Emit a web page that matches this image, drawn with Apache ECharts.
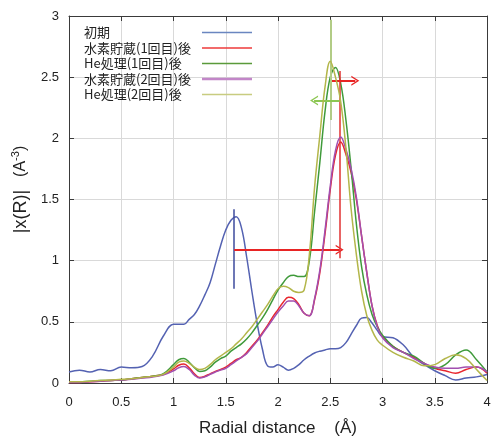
<!DOCTYPE html>
<html><head><meta charset="utf-8">
<script src="https://cdn.jsdelivr.net/npm/echarts@6/dist/echarts.min.js"></script>
<style>html,body{margin:0;padding:0;background:#fff}#c{width:492px;height:436px}</style>
</head><body><div id="c"></div><script>
// Radial distance grid (Å)
const rGrid = [0,0.1,0.2,0.3,0.4,0.5,0.6,0.7,0.8,0.9,
  1.0,1.05,1.1,1.15,1.2,1.25,1.3,1.35,1.4,1.45,
  1.5,1.55,1.6,1.65,1.7,1.75,1.8,1.85,1.9,1.95,
  2.0,2.05,2.1,2.15,2.2,2.25,2.3,2.35,2.4,2.45,
  2.5,2.55,2.6,2.65,2.7,2.75,2.8,2.85,2.9,2.95,
  3.0,3.1,3.2,3.3,3.4,3.5,3.6,3.7,3.8,3.9,4.0];
// 初期
const initialVals = [0.09,0.105,0.09,0.11,0.10,0.13,0.125,0.135,0.22,0.38,
  0.48,0.48,0.48,0.52,0.56,0.63,0.72,0.82,0.97,1.12,
  1.25,1.33,1.36,1.27,1.03,0.75,0.49,0.28,0.14,0.13,
  0.15,0.13,0.105,0.12,0.15,0.19,0.22,0.245,0.26,0.27,
  0.28,0.28,0.29,0.33,0.40,0.47,0.53,0.535,0.49,0.43,
  0.38,0.37,0.31,0.21,0.15,0.10,0.06,0.025,0.04,0.05,0.07];
// 水素貯蔵(1回目)後
const h1Vals = [0.005,0.005,0.01,0.015,0.02,0.025,0.035,0.045,0.055,0.07,
  0.115,0.145,0.155,0.125,0.075,0.045,0.055,0.075,0.095,0.11,
  0.13,0.16,0.19,0.21,0.25,0.30,0.35,0.41,0.47,0.54,
  0.60,0.66,0.70,0.69,0.64,0.57,0.55,0.68,0.90,1.22,
  1.58,1.86,1.97,1.87,1.72,1.50,1.20,0.90,0.63,0.47,
  0.38,0.30,0.25,0.21,0.16,0.12,0.10,0.08,0.11,0.13,0.08];
// He処理(1回目)後
const he1Vals = [0.01,0.01,0.015,0.02,0.02,0.025,0.035,0.045,0.055,0.075,
  0.15,0.19,0.20,0.17,0.125,0.095,0.10,0.13,0.17,0.20,
  0.22,0.26,0.29,0.32,0.36,0.41,0.47,0.53,0.60,0.68,
  0.76,0.82,0.87,0.88,0.87,0.87,1.00,1.40,1.80,2.22,
  2.50,2.58,2.45,2.15,1.75,1.30,0.95,0.72,0.56,0.46,
  0.39,0.30,0.25,0.22,0.16,0.12,0.15,0.23,0.27,0.19,0.09];
// 水素貯蔵(2回目)後
const h2Vals = [0.005,0.005,0.01,0.015,0.02,0.025,0.03,0.04,0.05,0.065,
  0.10,0.125,0.135,0.11,0.065,0.04,0.05,0.07,0.09,0.105,
  0.12,0.15,0.18,0.21,0.24,0.29,0.34,0.40,0.46,0.52,
  0.58,0.63,0.67,0.67,0.63,0.57,0.55,0.69,0.92,1.25,
  1.61,1.90,2.01,1.91,1.75,1.52,1.20,0.90,0.63,0.46,
  0.37,0.29,0.25,0.20,0.16,0.13,0.12,0.12,0.13,0.13,0.09];
// He処理(2回目)後
const he2Vals = [0.01,0.01,0.015,0.02,0.025,0.03,0.035,0.045,0.055,0.07,
  0.13,0.17,0.18,0.16,0.13,0.11,0.12,0.15,0.19,0.22,
  0.25,0.28,0.32,0.36,0.41,0.46,0.52,0.58,0.64,0.71,
  0.77,0.79,0.78,0.75,0.74,0.76,1.05,1.60,2.02,2.42,
  2.63,2.50,2.30,1.92,1.42,1.05,0.75,0.55,0.43,0.35,
  0.31,0.25,0.21,0.18,0.14,0.15,0.20,0.23,0.20,0.11,0.02];

const seriesNames = ['初期','水素貯蔵(1回目)後','He処理(1回目)後','水素貯蔵(2回目)後','He処理(2回目)後'];
const seriesValues = [initialVals, h1Vals, he1Vals, h2Vals, he2Vals];
const seriesColors = ['#5462b2','#e8262e','#3f9a3a','#a24fb0','#b3b64a'];
const legendColors = ['#6a86c0','#ee3a3a','#5a9a3a','#c286c8','#c8cc80'];

const xTickLabels = ['0','0.5','1','1.5','2','2.5','3','3.5','4'];
const yTickLabels = ['0','0.5','1','1.5','2','2.5','3'];

// annotation marks (data coordinates)
const blueBar = [[1.58,0.77],[1.58,1.42]];
const redShiftArrow = [[1.58,1.09],[2.59,1.09]];
const redBar = [[2.59,1.02],[2.59,2.55]];
const redSmallArrow = [[2.50,2.47],[2.74,2.47]];
const greenBar = [[2.50,2.15],[2.50,2.97]];
const greenArrow = [[2.59,2.31],[2.345,2.31]];

const chevron = 'path://M0,10 L10,0 L20,10 L17,10 L10,3 L3,10 Z';
function seg(pts, color, width, arrow){
  return [
    {coord: pts[0], symbol:'none', lineStyle:{color:color,width:width,type:'solid'}},
    {coord: pts[1], symbol: arrow ? chevron : 'none', symbolSize:[10,8]}
  ];
}

const font = '"Liberation Sans", Arial, sans-serif';
const cjk = '"Noto Sans CJK JP", sans-serif';
const chart = echarts.init(document.getElementById('c'), null, {renderer:'canvas'});

const series = seriesNames.map((name,i)=>({
  name: name, type:'line', smooth:0.4, symbol:'none', showSymbol:false,
  z: 2+i,
  lineStyle:{color:seriesColors[i], width:1.5},
  itemStyle:{color:seriesColors[i]},
  data: rGrid.map((r,k)=>[r, seriesValues[i][k]]),
  animation:false
}));
series[0].markLine = {
  silent:true, animation:false, label:{show:false}, symbol:['none','none'],
  emphasis:{disabled:true},
  data:[
    seg(blueBar,'#3c4a9c',1.5,false),
    seg(redShiftArrow,'#e82424',2,true),
    seg(redBar,'#e03030',1.5,false),
    seg(redSmallArrow,'#e82424',2,true),
    seg(greenBar,'#b2cc86',2,false),
    seg(greenArrow,'#8cc652',2,true)
  ]
};

const thinBar = 'path://M0,0H60V1.6H0Z';
const thickBar = 'path://M0,0H60V3.2H0Z';
const axisCol = '#3a3a3a';
const option = {
  backgroundColor:'#fff',
  animation:false,
  grid:{left:69, right:5, top:16, bottom:53, containLabel:false, outerBoundsMode:'none'},
  legend:{
    data: seriesNames.map((n,i)=>({name:n, icon: i===3 ? thickBar : thinBar,
      itemStyle:{color:legendColors[i], borderWidth:0}})),
    orient:'vertical', left:84, top:26, align:'right', padding:0, itemGap:2.5,
    itemWidth:50, itemHeight:13, selectedMode:false,
    formatter: n => '{t|' + n + '}',
    textStyle:{color:'#222', fontSize:13, fontFamily:cjk,
      rich:{t:{width:113, align:'left', fontSize:13, lineHeight:13, fontFamily:cjk, color:'#222'}}}
  },
  xAxis:[{
    type:'value', min:0, max:4, interval:0.5, position:'bottom',
    axisLine:{show:true, onZero:false, lineStyle:{color:axisCol}},
    axisTick:{show:true, inside:true, length:5, lineStyle:{color:axisCol}},
    axisLabel:{show:true, margin:13, fontSize:13, color:'#222', fontFamily:font,
      formatter:(v)=> xTickLabels[Math.round(v*2)]},
    splitLine:{show:true, lineStyle:{color:'#d9d9d9', width:1}},
    name:'Radial distance    (Å)', nameLocation:'middle', nameGap:37,
    nameTextStyle:{fontSize:17, color:'#222', fontFamily:font}
  },{
    type:'value', min:0, max:4, interval:0.5, position:'top',
    axisLine:{show:true, onZero:false, lineStyle:{color:axisCol}},
    axisTick:{show:true, inside:true, length:5, lineStyle:{color:axisCol}},
    axisLabel:{show:false}, splitLine:{show:false}
  }],
  yAxis:[{
    type:'value', min:0, max:3, interval:0.5, position:'left',
    axisLine:{show:true, onZero:false, lineStyle:{color:axisCol}},
    axisTick:{show:true, inside:true, length:5, lineStyle:{color:axisCol}},
    axisLabel:{show:true, margin:10, fontSize:13, color:'#222', fontFamily:font,
      formatter:(v)=> yTickLabels[Math.round(v*2)]},
    splitLine:{show:true, lineStyle:{color:'#d9d9d9', width:1}},
    name:'{a||x(R)|}{g| }{b|(A}{s|-3}{b|)}', nameLocation:'middle', nameGap:34,
    nameTextStyle:{color:'#222', fontFamily:font,
      rich:{a:{fontSize:18, fontFamily:font, color:'#222', padding:[0,0,0,20]},
            g:{width:13, fontSize:15},
            b:{fontSize:16, fontFamily:font, color:'#222'},
            s:{fontSize:11, fontFamily:font, color:'#222', padding:[0,0,10,0]}}}
  },{
    type:'value', min:0, max:3, interval:0.5, position:'right',
    axisLine:{show:true, onZero:false, lineStyle:{color:axisCol}},
    axisTick:{show:true, inside:true, length:5, lineStyle:{color:axisCol}},
    axisLabel:{show:false}, splitLine:{show:false}
  }],
  series: series
};
chart.setOption(option);
</script></body></html>
